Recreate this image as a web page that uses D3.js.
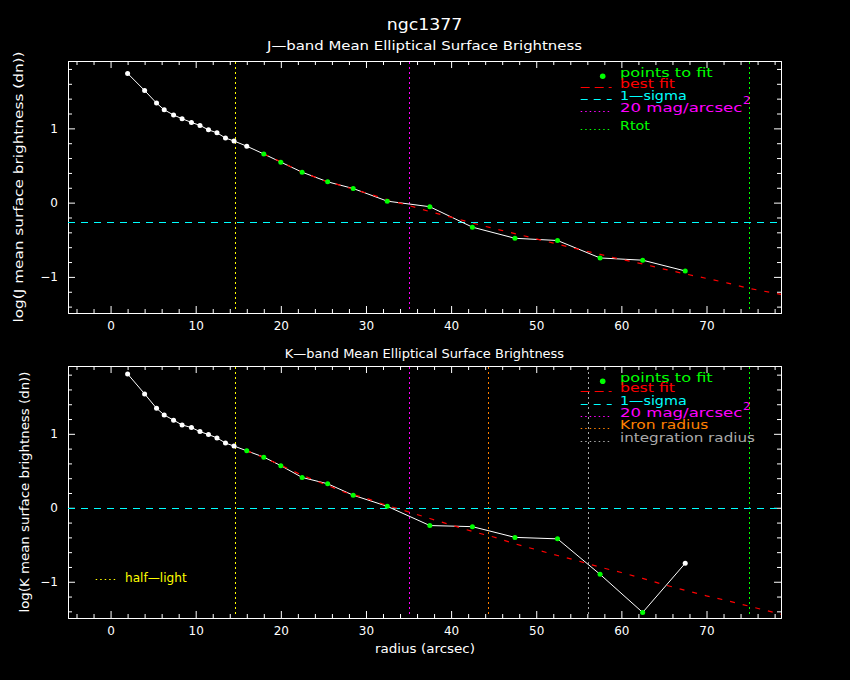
<!DOCTYPE html>
<html>
<head>
<meta charset="utf-8">
<script src="https://cdn.jsdelivr.net/npm/d3@7"></script>
<style>
  html, body { margin: 0; padding: 0; background: #000; }
  svg { display: block; background: #000; }
  text { font-family: "DejaVu Sans", sans-serif; }
</style>
</head>
<body>
<svg id="chart" width="850" height="680"></svg>
<script>
// --- data ---
const radius = [2.0, 4.0, 5.4, 6.3, 7.4, 8.4, 9.5, 10.5, 11.5, 12.5, 13.5, 14.5, 16.0,
                18.0, 20.0, 22.5, 25.5, 28.5, 32.5, 37.5, 42.5, 47.5, 52.5, 57.5, 62.5, 67.5];
const jLogSB = [1.74, 1.51, 1.34, 1.25, 1.18, 1.13, 1.08, 1.04, 0.98, 0.94, 0.87, 0.83, 0.76,
                0.655, 0.545, 0.41, 0.28, 0.19, 0.02, -0.055, -0.33, -0.48, -0.51, -0.745, -0.775, -0.92];
const kLogSB = [1.81, 1.54, 1.345, 1.255, 1.185, 1.12, 1.085, 1.03, 0.99, 0.945, 0.875, 0.835, 0.77,
                0.685, 0.57, 0.41, 0.325, 0.17, 0.02, -0.24, -0.255, -0.40, -0.42, -0.90, -1.415, -0.75];
// radius range of the points used in the fit
const jFitRange = [18, 67.5];
const kFitRange = [16, 62.5];

// best fit curves
const jFitRadius = [18, 20, 22.5, 25, 27.5, 30, 32.5, 35, 37.5, 40, 42.5, 45, 47.5, 50, 52.5,
                    55, 57.5, 60, 62.5, 65, 67.5, 70, 72.5, 75, 78.75];
const jFit = [0.655, 0.55, 0.41, 0.30, 0.217, 0.13, 0.04, -0.038, -0.121, -0.195, -0.275, -0.348,
              -0.417, -0.488, -0.559, -0.63, -0.697, -0.765, -0.825, -0.895, -0.96, -1.02, -1.083, -1.155, -1.235];
const kFitRadius = [16, 18, 20, 22.5, 25, 27.5, 30, 32.5, 35, 37.5, 40, 42.5, 45, 47.5, 50, 52.5,
                    55, 57.5, 60, 62.5, 65, 67.5, 70, 72.5, 75, 78.75];
const kFit = [0.77, 0.68, 0.575, 0.44, 0.325, 0.21, 0.13, 0.03, -0.055, -0.145, -0.232, -0.32, -0.395,
              -0.487, -0.566, -0.645, -0.72, -0.803, -0.875, -0.955, -1.04, -1.115, -1.19, -1.258, -1.33, -1.44];

// reference radii / levels
const jHalfLight = 14.6, jMag20 = 35.05, jRtot = 75.0, jSigma = -0.26;
const kHalfLight = 14.6, kMag20 = 35.05, kKron = 44.3, kIntegration = 56.1, kRtot = 75.0, kSigma = 0.0;

// ticks
const xMajor = [0, 10, 20, 30, 40, 50, 60, 70];
const xMinor = d3.range(-4, 79, 2).filter(v => v % 10 !== 0);
const yMajor = [-1, 0, 1];
const yMinor = d3.range(-7, 10).map(i => i / 5).filter(v => !Number.isInteger(v));

const col = {
    white: "#ffffff", green: "#00ff00", red: "#ff0000", cyan: "#00ffff",
    magenta: "#ff00ff", yellow: "#ffff00", orange: "#ff8000", gray: "#aaaaaa"
};
const FONT = '"DejaVu Sans", sans-serif';

const svg = d3.select("#chart");

const x = d3.scaleLinear().domain([-5, 78.75]).range([68, 781]);
const snap = v => Math.round(v) + 0.5;

function txt(g, str, px, py, size, color, len, anchor) {
    const t = g.append("text")
        .attr("x", px).attr("y", py)
        .attr("fill", color)
        .attr("font-size", size)
        .attr("font-family", FONT)
        .attr("text-anchor", anchor || "start")
        .text(str);
    if (len) t.attr("textLength", len).attr("lengthAdjust", "spacingAndGlyphs");
    return t;
}

function drawPanel(p) {
    const g = svg.append("g");
    const y = d3.scaleLinear().domain(p.yDomain).range([p.bottom, p.top]);

    // axes (ticks inside, all four sides)
    const styleAxis = sel => sel.attr("color", col.white)
        .attr("font-size", 12).attr("font-family", FONT);

    g.append("g").attr("transform", `translate(0,${p.bottom})`)
        .call(d3.axisBottom(x).tickValues(xMajor).tickSize(-7).tickSizeOuter(0)
            .tickPadding(8.5).tickFormat(d3.format("d")))
        .call(styleAxis);
    g.append("g").attr("transform", `translate(0,${p.bottom})`)
        .call(d3.axisBottom(x).tickValues(xMinor).tickSize(-4).tickSizeOuter(0).tickFormat(""))
        .call(styleAxis);
    g.append("g").attr("transform", `translate(0,${p.top})`)
        .call(d3.axisTop(x).tickValues(xMajor).tickSize(-7).tickSizeOuter(0).tickFormat(""))
        .call(styleAxis);
    g.append("g").attr("transform", `translate(0,${p.top})`)
        .call(d3.axisTop(x).tickValues(xMinor).tickSize(-4).tickSizeOuter(0).tickFormat(""))
        .call(styleAxis);
    g.append("g").attr("transform", `translate(${x.range()[0]},0)`)
        .call(d3.axisLeft(y).tickValues(yMajor).tickSize(-7).tickSizeOuter(0)
            .tickPadding(10).tickFormat(d3.format("d")))
        .call(styleAxis);
    g.append("g").attr("transform", `translate(${x.range()[0]},0)`)
        .call(d3.axisLeft(y).tickValues(yMinor).tickSize(-4).tickSizeOuter(0).tickFormat(""))
        .call(styleAxis);
    g.append("g").attr("transform", `translate(${x.range()[1]},0)`)
        .call(d3.axisRight(y).tickValues(yMajor).tickSize(-7).tickSizeOuter(0).tickFormat(""))
        .call(styleAxis);
    g.append("g").attr("transform", `translate(${x.range()[1]},0)`)
        .call(d3.axisRight(y).tickValues(yMinor).tickSize(-4).tickSizeOuter(0).tickFormat(""))
        .call(styleAxis);

    // vertical reference radii
    p.verticals.forEach(v => {
        g.append("line")
            .attr("x1", snap(x(v.r))).attr("x2", snap(x(v.r)))
            .attr("y1", p.top + 1).attr("y2", p.bottom - 1)
            .attr("stroke", v.color).attr("stroke-width", 1)
            .attr("stroke-dasharray", "2,3");
    });

    // 1-sigma level
    g.append("line")
        .attr("x1", x.range()[0]).attr("x2", x.range()[1])
        .attr("y1", snap(y(p.sigma))).attr("y2", snap(y(p.sigma)))
        .attr("stroke", col.cyan).attr("stroke-width", 1)
        .attr("stroke-dasharray", "7,6");

    // profile
    const pts = radius.map((r, i) => ({ r, v: p.values[i] }));
    g.append("path")
        .datum(pts)
        .attr("fill", "none")
        .attr("stroke", col.white)
        .attr("stroke-width", 1)
        .attr("d", d3.line().x(d => x(d.r)).y(d => y(d.v)));

    // best fit
    const fit = p.fitRadius.map((r, i) => ({ r, v: p.fit[i] }));
    g.append("path")
        .datum(fit)
        .attr("fill", "none")
        .attr("stroke", col.red)
        .attr("stroke-width", 1.2)
        .attr("stroke-dasharray", "5,8")
        .attr("d", d3.line().x(d => x(d.r)).y(d => y(d.v)));

    g.selectAll("circle.pt")
        .data(pts)
        .enter()
        .append("circle")
        .attr("class", "pt")
        .attr("cx", d => x(d.r))
        .attr("cy", d => y(d.v))
        .attr("r", 2.5)
        .attr("fill", d => (d.r >= p.fitRange[0] && d.r <= p.fitRange[1]) ? col.green : col.white);

    // legend
    const lx0 = 580.7, lx1 = 611.7, tx = 620;
    g.append("circle").attr("cx", 602.7).attr("cy", p.legendY[0] - 0.5).attr("r", 2.8).attr("fill", col.green);
    txt(g, "points to fit", tx, p.legendY[0], 13, col.green, 92.7);
    p.legendRows.forEach((row, i) => {
        const ly = p.legendY[i + 1];
        g.append("line")
            .attr("x1", lx0).attr("x2", lx1)
            .attr("y1", snap(ly - 1)).attr("y2", snap(ly - 1))
            .attr("stroke", row.color).attr("stroke-width", 1)
            .attr("stroke-dasharray", row.dash);
        txt(g, row.label, tx, ly, 13, row.color, row.len);
        if (row.sup) txt(g, "2", 743, ly - 7.5, 10.5, row.color, 7.5);
    });

    // titles
    txt(g, p.title, 424.5, p.titleY, p.titleSize, col.white, p.titleLen, "middle");
    txt(g, p.yLabel, 0, 0, 13, col.white, p.yLabelLen, "middle")
        .attr("transform", `translate(${p.yLabelX},${(p.top + p.bottom) / 2}) rotate(-90)`);
    return { g, y };
}

// heading
txt(svg, "ngc1377", 424.5, 30, 16, col.white, 75.6, "middle");

drawPanel({
    top: 61, bottom: 313, yDomain: [-1.486, 1.907],
    values: jLogSB, fitRange: jFitRange, fitRadius: jFitRadius, fit: jFit,
    sigma: jSigma,
    verticals: [
        { r: jHalfLight, color: col.yellow },
        { r: jMag20, color: col.magenta },
        { r: jRtot, color: col.green }
    ],
    legendY: [76.7, 87.7, 100, 111.7, 130],
    legendRows: [
        { label: "best fit", color: col.red, dash: "9,5", len: 55 },
        { label: "1\u2014sigma", color: col.cyan, dash: "7,6", len: 66.7 },
        { label: "20 mag/arcsec", color: col.magenta, dash: "1.5,3", len: 122.3, sup: true },
        { label: "Rtot", color: col.green, dash: "1.5,3", len: 30 }
    ],
    title: "J\u2014band Mean Elliptical Surface Brightness", titleY: 50, titleSize: 12.5, titleLen: 315,
    yLabel: "log(J mean surface brightness (dn))", yLabelX: 22.7, yLabelLen: 271
});

const kPanel = drawPanel({
    top: 366, bottom: 618, yDomain: [-1.49, 1.917],
    values: kLogSB, fitRange: kFitRange, fitRadius: kFitRadius, fit: kFit,
    sigma: kSigma,
    verticals: [
        { r: kHalfLight, color: col.yellow },
        { r: kMag20, color: col.magenta },
        { r: kKron, color: col.orange },
        { r: kIntegration, color: col.gray },
        { r: kRtot, color: col.green }
    ],
    legendY: [381.7, 392.3, 405, 417.3, 429.3, 441.7],
    legendRows: [
        { label: "best fit", color: col.red, dash: "9,5", len: 55 },
        { label: "1\u2014sigma", color: col.cyan, dash: "7,6", len: 66.7 },
        { label: "20 mag/arcsec", color: col.magenta, dash: "1.5,3", len: 122.3, sup: true },
        { label: "Kron radius", color: col.orange, dash: "1.5,3", len: 88.3 },
        { label: "integration radius", color: col.gray, dash: "1.5,3", len: 135 }
    ],
    title: "K\u2014band Mean Elliptical Surface Brightness", titleY: 357.7, titleSize: 12, titleLen: 279.3,
    yLabel: "log(K mean surface brightness (dn))", yLabelX: 29.3, yLabelLen: 241
});

// half-light legend (bottom panel)
kPanel.g.append("line")
    .attr("x1", 95.7).attr("x2", 116.7).attr("y1", 579.5).attr("y2", 579.5)
    .attr("stroke", col.yellow).attr("stroke-width", 1).attr("stroke-dasharray", "1.5,3");
txt(kPanel.g, "half\u2014light", 125, 581.5, 13, col.yellow, 61.7);

// x axis label
txt(svg, "radius (arcsec)", 425, 652.7, 13, col.white, 100, "middle");
</script>
</body>
</html>
